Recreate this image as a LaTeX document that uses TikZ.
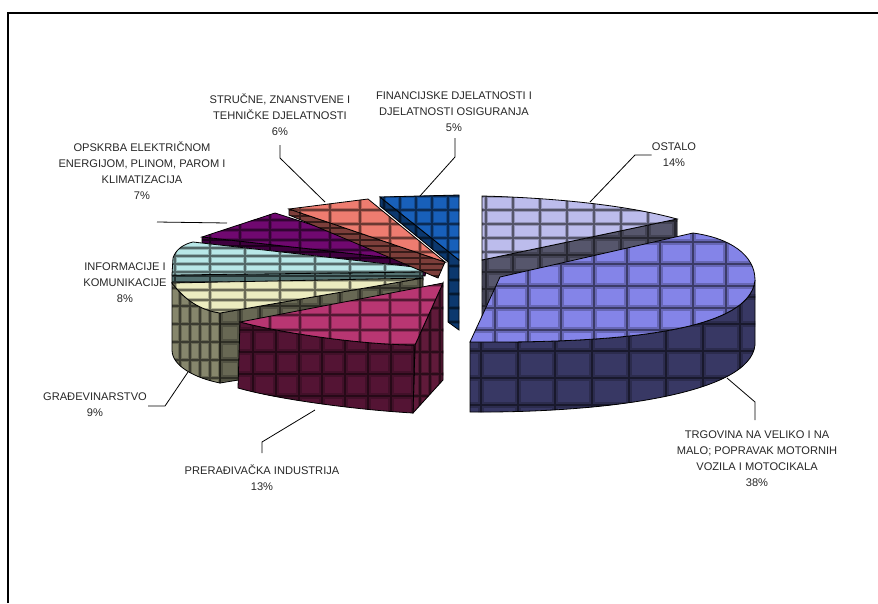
\documentclass[tikz,border=0pt]{standalone}
\usepackage{fontspec}
\setmainfont{Liberation Sans}

\definecolor{ostTop}{RGB}{188,188,236}
\definecolor{ostSide}{RGB}{86,86,108}
\definecolor{trgTop}{RGB}{132,132,232}
\definecolor{trgSide}{RGB}{56,56,100}
\definecolor{finTop}{RGB}{24,96,186}
\definecolor{finSide}{RGB}{12,56,110}
\definecolor{strTop}{RGB}{238,124,112}
\definecolor{strSide}{RGB}{124,62,58}
\definecolor{opsTop}{RGB}{112,8,112}
\definecolor{opsSide}{RGB}{62,0,62}
\definecolor{infTop}{RGB}{184,232,232}
\definecolor{infSide}{RGB}{84,114,114}
\definecolor{graTop}{RGB}{236,236,192}
\definecolor{graSide}{RGB}{134,134,108}
\definecolor{graCut}{RGB}{104,104,84}
\definecolor{preTop}{RGB}{184,54,114}
\definecolor{preSide}{RGB}{84,20,52}
\definecolor{preCut}{RGB}{96,26,58}

% filled face with a soft tiled grid on it
\newcommand{\tileface}[5]{%
  \fill[#1] #5;
  \begin{scope}
    \clip #5;
    \draw[#1!78!black, line width=1.9*#4, xstep=#2, ystep=#3] (0,0) grid (900,620);
    \draw[#1!45!black, line width=0.7*#4, xstep=#2, ystep=#3] (0,0) grid (900,620);
  \end{scope}
  \draw[line width=0.8pt] #5;
}

\begin{document}
\begin{tikzpicture}[x=1pt, y=-1pt,
    lbl/.style={font=\fontsize{11.1}{16}\selectfont, align=center, inner sep=0pt, text=black!85},
    lead/.style={draw=black, line width=0.8pt},
    frame/.style={line width=1.6pt}
  ]
  \useasboundingbox (0,0) rectangle (878,603);
  \draw[frame] (8,603) -- (8,13) -- (878,13);

  % OSTALO
  \tileface{ostSide}{27pt}{17pt}{3pt}{(482,260) -- (677,219) -- (677,262) -- (482,318) -- cycle}
  \tileface{ostTop}{27pt}{14pt}{2.5pt}{(482,196) .. controls (560,198) and (630,206) .. (677,219) -- (482,260) -- cycle}

  % OPSKRBA
  \tileface{opsSide}{30pt}{6pt}{1.5pt}{(202,237) -- (202,243) -- (425,276) -- (428,262) -- cycle}
  \tileface{opsTop}{30pt}{10pt}{2.5pt}{(202,237) -- (275,213) -- (428,262) -- cycle}

  % INFORMACIJE
  \tileface{infSide}{35pt}{6pt}{1.5pt}{(172,275) -- (172,283) -- (423,280) -- (423,272) -- cycle}
  \tileface{infTop}{35pt}{8pt}{2pt}{(172,275) -- (173,258) .. controls (176,249) and (184,244) .. (193,242) -- (423,268) -- (423,272) -- cycle}

  % GRADJEVINARSTVO
  \tileface{graCut}{20pt}{18pt}{3pt}{(220,313) -- (423,278) -- (423,350) -- (220,383) -- cycle}
  \tileface{graSide}{10pt}{18pt}{2pt}{(172,283) .. controls (185,300) and (200,310) .. (220,313) -- (220,383) .. controls (195,378) and (172,366) .. (172,350) -- cycle}
  \tileface{graTop}{35pt}{10pt}{2.5pt}{(172,283) -- (423,278) -- (220,313) .. controls (200,310) and (185,300) .. (172,283) -- cycle}

  % STRUCNE
  \tileface{strSide}{30pt}{6pt}{1.5pt}{(289,209) -- (289,215) -- (438,278) -- (445,262) -- cycle}
  \tileface{strTop}{30pt}{14pt}{2.5pt}{(289,209) -- (368,199) -- (445,262) -- cycle}

  % FINANCIJSKE
  \tileface{finSide}{16pt}{14pt}{2.5pt}{(380,197) -- (380,206) -- (448,262) -- (448,322) -- (459,330) -- (459,260) -- cycle}
  \tileface{finTop}{16pt}{14pt}{2.5pt}{(380,197) -- (459,195) -- (459,260) -- cycle}

  % PRERADJIVACKA
  \tileface{preCut}{10pt}{22pt}{2.5pt}{(415,345) -- (443,283) -- (443,380) -- (413,413) -- cycle}
  \tileface{preSide}{23pt}{22pt}{3pt}{(240,322) .. controls (290,335) and (370,345) .. (415,345) -- (413,413) .. controls (360,410) and (280,400) .. (238,388) -- cycle}
  \tileface{preTop}{30pt}{15pt}{2.5pt}{(240,322) -- (443,283) -- (415,345) .. controls (370,345) and (290,335) .. (240,322) -- cycle}

  % TRGOVINA
  \tileface{trgSide}{37pt}{27pt}{3.5pt}{(470,342) .. controls (600,343) and (750,335) .. (755,280) -- (755,345) .. controls (750,395) and (600,413) .. (470,412) -- cycle}
  \tileface{trgTop}{33pt}{22pt}{3.5pt}{(470,342) -- (500,277) -- (693,233) .. controls (730,238) and (755,255) .. (755,280) .. controls (750,335) and (600,343) .. (470,342) -- cycle}

  % labels
  \node[lbl] (ost) at (674,155) {OSTALO\\14\%};
  \node[lbl] (trg) at (757,459) {TRGOVINA NA VELIKO I NA\\MALO; POPRAVAK MOTORNIH\\VOZILA I MOTOCIKALA\\38\%};
  \node[lbl] (pre) at (262,478) {PRERAĐIVAČKA INDUSTRIJA\\13\%};
  \node[lbl] (gra) at (95,405) {GRAĐEVINARSTVO\\9\%};
  \node[lbl] (inf) at (125,283) {INFORMACIJE I\\KOMUNIKACIJE\\8\%};
  \node[lbl] (ops) at (142,171) {OPSKRBA ELEKTRIČNOM\\ENERGIJOM, PLINOM, PAROM I\\KLIMATIZACIJA\\7\%};
  \node[lbl] (str) at (280,115) {STRUČNE, ZNANSTVENE I\\TEHNIČKE DJELATNOSTI\\6\%};
  \node[lbl] (fin) at (454,112) {FINANCIJSKE DJELATNOSTI I\\DJELATNOSTI OSIGURANJA\\5\%};

  % leader lines
  \coordinate (ostA) at (635,155);
  \coordinate (ostTip) at (590,202);
  \coordinate (trgA) at (755,420);
  \coordinate (trgB) at (755,402);
  \coordinate (trgTip) at (727,378);
  \coordinate (preA) at (262,453);
  \coordinate (preB) at (262,442);
  \coordinate (preTip) at (315,410);
  \coordinate (graA) at (148,406);
  \coordinate (graB) at (165,406);
  \coordinate (graTip) at (188,372);
  \coordinate (opsA) at (157,222);
  \coordinate (opsTip) at (227,223);
  \coordinate (strA) at (280,145);
  \coordinate (strB) at (280,158);
  \coordinate (strTip) at (325,202);
  \coordinate (finA) at (455,138);
  \coordinate (finB) at (455,157);
  \coordinate (finTip) at (420,196);

  \draw[lead] (ost.west) -- (ostA) -- (ostTip);
  \draw[lead] (trgA) -- (trgB) -- (trgTip);
  \draw[lead] (preA) -- (preB) -- (preTip);
  \draw[lead] (graA) -- (graB) -- (graTip);
  \draw[lead] (opsA) -- (opsTip);
  \draw[lead] (strA) -- (strB) -- (strTip);
  \draw[lead] (finA) -- (finB) -- (finTip);
\end{tikzpicture}
\end{document}
